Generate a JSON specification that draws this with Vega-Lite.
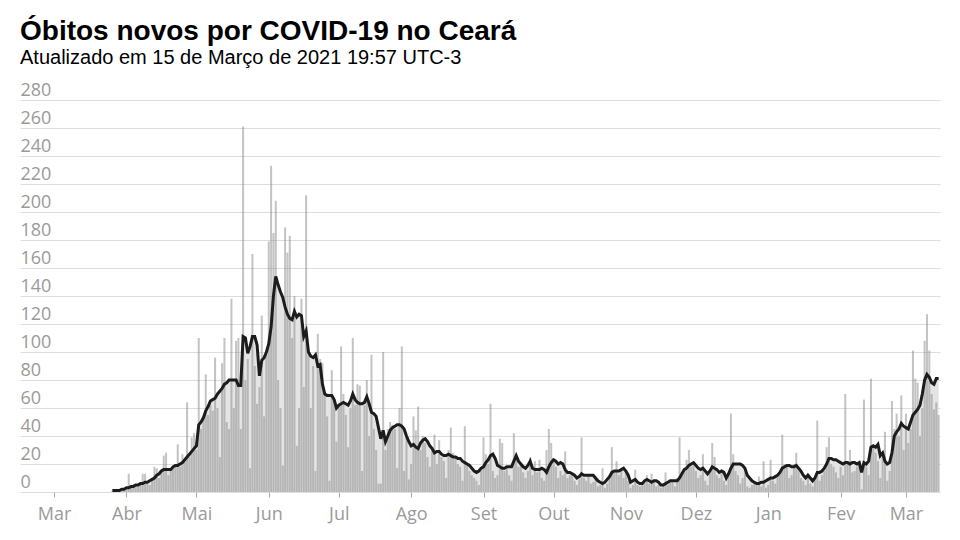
{
"$schema": "https://vega.github.io/schema/vega-lite/v6.json",
"width": 920, "height": 392,
"autosize": {"type": "none"},
"padding": {"left": 20, "top": 100, "right": 20, "bottom": 48},
"background": "white",
"title": {"text": "Óbitos novos por COVID-19 no Ceará", "subtitle": "Atualizado em 15 de Março de 2021 19:57 UTC-3", "anchor": "start", "frame": "bounds", "font": "Liberation Sans", "fontSize": 28, "fontWeight": "bold", "color": "#000", "subtitleFont": "Liberation Sans", "subtitleFontSize": 20, "subtitleColor": "#000", "subtitlePadding": 2, "offset": 13},
"config": {
  "view": {"stroke": null},
  "axisY": {"title": null, "domain": false, "ticks": false, "tickSize": 0, "labelAlign": "left", "labelBaseline": "alphabetic", "labelPadding": 0, "labelOffset": -5, "labelFont": "Open Sans", "labelFontSize": 18, "labelColor": "#9a9a9a", "gridColor": "#dddddd", "gridWidth": 1},
  "axisX": {"title": null, "domain": false, "grid": false, "ticks": true, "tickSize": 5, "tickColor": "#aaaaaa", "labelFont": "Open Sans", "labelFontSize": 18, "labelColor": "#9a9a9a", "labelPadding": 8, "labelFlush": false}
},
"data": {"values": [
{"d":"2020-03-26","o":1,"m":1},{"d":"2020-03-27","o":0,"m":1},{"d":"2020-03-28","o":1,"m":1},{"d":"2020-03-29","o":1,"m":1},{"d":"2020-03-30","o":2,"m":2},{"d":"2020-03-31","o":2,"m":2},
{"d":"2020-04-01","o":2,"m":3},{"d":"2020-04-02","o":13,"m":3},{"d":"2020-04-03","o":3,"m":4},{"d":"2020-04-04","o":4,"m":4},{"d":"2020-04-05","o":5,"m":5},{"d":"2020-04-06","o":4,"m":5},{"d":"2020-04-07","o":6,"m":6},{"d":"2020-04-08","o":13,"m":6},{"d":"2020-04-09","o":13,"m":7},{"d":"2020-04-10","o":6,"m":7},{"d":"2020-04-11","o":5,"m":8},{"d":"2020-04-12","o":9,"m":9},{"d":"2020-04-13","o":18,"m":10},{"d":"2020-04-14","o":17,"m":12},{"d":"2020-04-15","o":10,"m":13},{"d":"2020-04-16","o":14,"m":15},{"d":"2020-04-17","o":26,"m":16},{"d":"2020-04-18","o":28,"m":16},{"d":"2020-04-19","o":12,"m":16},{"d":"2020-04-20","o":15,"m":16},{"d":"2020-04-21","o":17,"m":18},{"d":"2020-04-22","o":20,"m":19},{"d":"2020-04-23","o":34,"m":19},{"d":"2020-04-24","o":18,"m":20},{"d":"2020-04-25","o":27,"m":21},{"d":"2020-04-26","o":22,"m":23},{"d":"2020-04-27","o":64,"m":25},{"d":"2020-04-28","o":25,"m":27},{"d":"2020-04-29","o":39,"m":29},{"d":"2020-04-30","o":42,"m":31},
{"d":"2020-05-01","o":30,"m":33},{"d":"2020-05-02","o":110,"m":48},{"d":"2020-05-03","o":45,"m":50},{"d":"2020-05-04","o":52,"m":53},{"d":"2020-05-05","o":84,"m":58},{"d":"2020-05-06","o":55,"m":61},{"d":"2020-05-07","o":62,"m":65},{"d":"2020-05-08","o":58,"m":66},{"d":"2020-05-09","o":96,"m":67},{"d":"2020-05-10","o":60,"m":70},{"d":"2020-05-11","o":25,"m":72},{"d":"2020-05-12","o":92,"m":74},{"d":"2020-05-13","o":110,"m":77},{"d":"2020-05-14","o":50,"m":78},{"d":"2020-05-15","o":45,"m":80},{"d":"2020-05-16","o":138,"m":80},{"d":"2020-05-17","o":60,"m":80},{"d":"2020-05-18","o":108,"m":80},{"d":"2020-05-19","o":110,"m":76},{"d":"2020-05-20","o":45,"m":76},{"d":"2020-05-21","o":261,"m":111},{"d":"2020-05-22","o":80,"m":110},{"d":"2020-05-23","o":95,"m":99},{"d":"2020-05-24","o":17,"m":104},{"d":"2020-05-25","o":170,"m":111},{"d":"2020-05-26","o":90,"m":111},{"d":"2020-05-27","o":63,"m":105},{"d":"2020-05-28","o":75,"m":83},{"d":"2020-05-29","o":126,"m":94},{"d":"2020-05-30","o":54,"m":96},{"d":"2020-05-31","o":98,"m":100},
{"d":"2020-06-01","o":179,"m":106},{"d":"2020-06-02","o":233,"m":118},{"d":"2020-06-03","o":185,"m":140},{"d":"2020-06-04","o":208,"m":154},{"d":"2020-06-05","o":80,"m":148},{"d":"2020-06-06","o":60,"m":143},{"d":"2020-06-07","o":19,"m":139},{"d":"2020-06-08","o":189,"m":132},{"d":"2020-06-09","o":171,"m":127},{"d":"2020-06-10","o":183,"m":124},{"d":"2020-06-11","o":110,"m":123},{"d":"2020-06-12","o":140,"m":129},{"d":"2020-06-13","o":33,"m":125},{"d":"2020-06-14","o":60,"m":127},{"d":"2020-06-15","o":138,"m":126},{"d":"2020-06-16","o":75,"m":111},{"d":"2020-06-17","o":212,"m":115},{"d":"2020-06-18","o":100,"m":100},{"d":"2020-06-19","o":60,"m":97},{"d":"2020-06-20","o":90,"m":96},{"d":"2020-06-21","o":15,"m":98},{"d":"2020-06-22","o":113,"m":90},{"d":"2020-06-23","o":95,"m":91},{"d":"2020-06-24","o":92,"m":77},{"d":"2020-06-25","o":70,"m":70},{"d":"2020-06-26","o":54,"m":69},{"d":"2020-06-27","o":8,"m":69},{"d":"2020-06-28","o":87,"m":69},{"d":"2020-06-29","o":65,"m":66},{"d":"2020-06-30","o":36,"m":60},
{"d":"2020-07-01","o":62,"m":62},{"d":"2020-07-02","o":104,"m":63},{"d":"2020-07-03","o":70,"m":64},{"d":"2020-07-04","o":55,"m":63},{"d":"2020-07-05","o":32,"m":62},{"d":"2020-07-06","o":60,"m":65},{"d":"2020-07-07","o":110,"m":70},{"d":"2020-07-08","o":62,"m":66},{"d":"2020-07-09","o":77,"m":64},{"d":"2020-07-10","o":76,"m":63},{"d":"2020-07-11","o":15,"m":63},{"d":"2020-07-12","o":62,"m":64},{"d":"2020-07-13","o":80,"m":68},{"d":"2020-07-14","o":40,"m":63},{"d":"2020-07-15","o":98,"m":57},{"d":"2020-07-16","o":45,"m":56},{"d":"2020-07-17","o":30,"m":54},{"d":"2020-07-18","o":6,"m":46},{"d":"2020-07-19","o":6,"m":38},{"d":"2020-07-20","o":100,"m":44},{"d":"2020-07-21","o":30,"m":36},{"d":"2020-07-22","o":45,"m":40},{"d":"2020-07-23","o":50,"m":44},{"d":"2020-07-24","o":48,"m":46},{"d":"2020-07-25","o":45,"m":47},{"d":"2020-07-26","o":17,"m":48},{"d":"2020-07-27","o":60,"m":48},{"d":"2020-07-28","o":104,"m":47},{"d":"2020-07-29","o":15,"m":45},{"d":"2020-07-30","o":40,"m":40},{"d":"2020-07-31","o":9,"m":36},
{"d":"2020-08-01","o":20,"m":33},{"d":"2020-08-02","o":54,"m":34},{"d":"2020-08-03","o":44,"m":32},{"d":"2020-08-04","o":61,"m":31},{"d":"2020-08-05","o":30,"m":35},{"d":"2020-08-06","o":40,"m":37},{"d":"2020-08-07","o":35,"m":38},{"d":"2020-08-08","o":25,"m":36},{"d":"2020-08-09","o":18,"m":33},{"d":"2020-08-10","o":30,"m":31},{"d":"2020-08-11","o":41,"m":28},{"d":"2020-08-12","o":20,"m":29},{"d":"2020-08-13","o":37,"m":29},{"d":"2020-08-14","o":25,"m":27},{"d":"2020-08-15","o":22,"m":26},{"d":"2020-08-16","o":10,"m":26},{"d":"2020-08-17","o":30,"m":27},{"d":"2020-08-18","o":46,"m":26},{"d":"2020-08-19","o":28,"m":25},{"d":"2020-08-20","o":25,"m":25},{"d":"2020-08-21","o":20,"m":24},{"d":"2020-08-22","o":18,"m":24},{"d":"2020-08-23","o":8,"m":22},{"d":"2020-08-24","o":47,"m":21},{"d":"2020-08-25","o":20,"m":20},{"d":"2020-08-26","o":15,"m":19},{"d":"2020-08-27","o":12,"m":17},{"d":"2020-08-28","o":10,"m":15},{"d":"2020-08-29","o":8,"m":14},{"d":"2020-08-30","o":5,"m":15},{"d":"2020-08-31","o":15,"m":17},
{"d":"2020-09-01","o":39,"m":18},{"d":"2020-09-02","o":27,"m":21},{"d":"2020-09-03","o":20,"m":23},{"d":"2020-09-04","o":63,"m":26},{"d":"2020-09-05","o":15,"m":27},{"d":"2020-09-06","o":10,"m":24},{"d":"2020-09-07","o":12,"m":19},{"d":"2020-09-08","o":38,"m":18},{"d":"2020-09-09","o":35,"m":17},{"d":"2020-09-10","o":15,"m":17},{"d":"2020-09-11","o":18,"m":18},{"d":"2020-09-12","o":12,"m":18},{"d":"2020-09-13","o":8,"m":18},{"d":"2020-09-14","o":42,"m":22},{"d":"2020-09-15","o":25,"m":26},{"d":"2020-09-16","o":18,"m":22},{"d":"2020-09-17","o":20,"m":20},{"d":"2020-09-18","o":14,"m":18},{"d":"2020-09-19","o":10,"m":17},{"d":"2020-09-20","o":15,"m":19},{"d":"2020-09-21","o":25,"m":22},{"d":"2020-09-22","o":12,"m":17},{"d":"2020-09-23","o":22,"m":16},{"d":"2020-09-24","o":14,"m":16},{"d":"2020-09-25","o":23,"m":16},{"d":"2020-09-26","o":10,"m":17},{"d":"2020-09-27","o":8,"m":16},{"d":"2020-09-28","o":30,"m":14},{"d":"2020-09-29","o":45,"m":18},{"d":"2020-09-30","o":35,"m":21},
{"d":"2020-10-01","o":22,"m":23},{"d":"2020-10-02","o":18,"m":22},{"d":"2020-10-03","o":10,"m":20},{"d":"2020-10-04","o":15,"m":21},{"d":"2020-10-05","o":12,"m":20},{"d":"2020-10-06","o":29,"m":16},{"d":"2020-10-07","o":10,"m":14},{"d":"2020-10-08","o":12,"m":14},{"d":"2020-10-09","o":14,"m":13},{"d":"2020-10-10","o":8,"m":12},{"d":"2020-10-11","o":5,"m":10},{"d":"2020-10-12","o":9,"m":11},{"d":"2020-10-13","o":39,"m":13},{"d":"2020-10-14","o":10,"m":12},{"d":"2020-10-15","o":8,"m":12},{"d":"2020-10-16","o":12,"m":12},{"d":"2020-10-17","o":6,"m":12},{"d":"2020-10-18","o":7,"m":12},{"d":"2020-10-19","o":10,"m":10},{"d":"2020-10-20","o":4,"m":8},{"d":"2020-10-21","o":5,"m":7},{"d":"2020-10-22","o":17,"m":6},{"d":"2020-10-23","o":3,"m":7},{"d":"2020-10-24","o":6,"m":9},{"d":"2020-10-25","o":10,"m":11},{"d":"2020-10-26","o":32,"m":14},{"d":"2020-10-27","o":14,"m":15},{"d":"2020-10-28","o":22,"m":15},{"d":"2020-10-29","o":12,"m":15},{"d":"2020-10-30","o":15,"m":16},{"d":"2020-10-31","o":10,"m":17},
{"d":"2020-11-01","o":14,"m":15},{"d":"2020-11-02","o":8,"m":12},{"d":"2020-11-03","o":3,"m":7},{"d":"2020-11-04","o":5,"m":8},{"d":"2020-11-05","o":16,"m":9},{"d":"2020-11-06","o":5,"m":7},{"d":"2020-11-07","o":4,"m":6},{"d":"2020-11-08","o":6,"m":6},{"d":"2020-11-09","o":8,"m":8},{"d":"2020-11-10","o":12,"m":9},{"d":"2020-11-11","o":6,"m":8},{"d":"2020-11-12","o":13,"m":7},{"d":"2020-11-13","o":8,"m":8},{"d":"2020-11-14","o":4,"m":8},{"d":"2020-11-15","o":5,"m":7},{"d":"2020-11-16","o":3,"m":5},{"d":"2020-11-17","o":6,"m":5},{"d":"2020-11-18","o":14,"m":6},{"d":"2020-11-19","o":5,"m":7},{"d":"2020-11-20","o":8,"m":8},{"d":"2020-11-21","o":7,"m":8},{"d":"2020-11-22","o":4,"m":8},{"d":"2020-11-23","o":10,"m":8},{"d":"2020-11-24","o":39,"m":10},{"d":"2020-11-25","o":12,"m":13},{"d":"2020-11-26","o":15,"m":16},{"d":"2020-11-27","o":23,"m":17},{"d":"2020-11-28","o":30,"m":19},{"d":"2020-11-29","o":18,"m":20},{"d":"2020-11-30","o":20,"m":21},
{"d":"2020-12-01","o":15,"m":19},{"d":"2020-12-02","o":10,"m":17},{"d":"2020-12-03","o":12,"m":16},{"d":"2020-12-04","o":27,"m":17},{"d":"2020-12-05","o":8,"m":15},{"d":"2020-12-06","o":5,"m":13},{"d":"2020-12-07","o":14,"m":15},{"d":"2020-12-08","o":35,"m":18},{"d":"2020-12-09","o":25,"m":17},{"d":"2020-12-10","o":12,"m":16},{"d":"2020-12-11","o":10,"m":14},{"d":"2020-12-12","o":15,"m":15},{"d":"2020-12-13","o":8,"m":14},{"d":"2020-12-14","o":5,"m":10},{"d":"2020-12-15","o":14,"m":13},{"d":"2020-12-16","o":56,"m":17},{"d":"2020-12-17","o":27,"m":20},{"d":"2020-12-18","o":15,"m":20},{"d":"2020-12-19","o":12,"m":20},{"d":"2020-12-20","o":6,"m":20},{"d":"2020-12-21","o":10,"m":19},{"d":"2020-12-22","o":14,"m":17},{"d":"2020-12-23","o":4,"m":12},{"d":"2020-12-24","o":3,"m":10},{"d":"2020-12-25","o":5,"m":8},{"d":"2020-12-26","o":6,"m":7},{"d":"2020-12-27","o":5,"m":6},{"d":"2020-12-28","o":11,"m":6},{"d":"2020-12-29","o":4,"m":7},{"d":"2020-12-30","o":22,"m":7},{"d":"2020-12-31","o":3,"m":8},
{"d":"2021-01-01","o":5,"m":9},{"d":"2021-01-02","o":23,"m":10},{"d":"2021-01-03","o":8,"m":10},{"d":"2021-01-04","o":6,"m":11},{"d":"2021-01-05","o":12,"m":12},{"d":"2021-01-06","o":15,"m":14},{"d":"2021-01-07","o":41,"m":17},{"d":"2021-01-08","o":20,"m":18},{"d":"2021-01-09","o":18,"m":19},{"d":"2021-01-10","o":10,"m":19},{"d":"2021-01-11","o":12,"m":18},{"d":"2021-01-12","o":20,"m":18},{"d":"2021-01-13","o":28,"m":19},{"d":"2021-01-14","o":15,"m":17},{"d":"2021-01-15","o":10,"m":15},{"d":"2021-01-16","o":8,"m":12},{"d":"2021-01-17","o":5,"m":10},{"d":"2021-01-18","o":12,"m":12},{"d":"2021-01-19","o":6,"m":10},{"d":"2021-01-20","o":4,"m":8},{"d":"2021-01-21","o":10,"m":10},{"d":"2021-01-22","o":51,"m":14},{"d":"2021-01-23","o":8,"m":14},{"d":"2021-01-24","o":12,"m":15},{"d":"2021-01-25","o":15,"m":17},{"d":"2021-01-26","o":32,"m":20},{"d":"2021-01-27","o":39,"m":24},{"d":"2021-01-28","o":20,"m":24},{"d":"2021-01-29","o":18,"m":23},{"d":"2021-01-30","o":14,"m":23},{"d":"2021-01-31","o":10,"m":22},
{"d":"2021-02-01","o":18,"m":21},{"d":"2021-02-02","o":12,"m":20},{"d":"2021-02-03","o":70,"m":21},{"d":"2021-02-04","o":20,"m":21},{"d":"2021-02-05","o":30,"m":20},{"d":"2021-02-06","o":14,"m":21},{"d":"2021-02-07","o":15,"m":21},{"d":"2021-02-08","o":18,"m":20},{"d":"2021-02-09","o":22,"m":21},{"d":"2021-02-10","o":2,"m":14},{"d":"2021-02-11","o":66,"m":21},{"d":"2021-02-12","o":18,"m":20},{"d":"2021-02-13","o":12,"m":22},{"d":"2021-02-14","o":81,"m":32},{"d":"2021-02-15","o":33,"m":33},{"d":"2021-02-16","o":28,"m":32},{"d":"2021-02-17","o":22,"m":34},{"d":"2021-02-18","o":10,"m":26},{"d":"2021-02-19","o":25,"m":28},{"d":"2021-02-20","o":43,"m":22},{"d":"2021-02-21","o":8,"m":20},{"d":"2021-02-22","o":15,"m":21},{"d":"2021-02-23","o":65,"m":28},{"d":"2021-02-24","o":45,"m":40},{"d":"2021-02-25","o":56,"m":43},{"d":"2021-02-26","o":40,"m":45},{"d":"2021-02-27","o":69,"m":49},{"d":"2021-02-28","o":30,"m":47},
{"d":"2021-03-01","o":56,"m":46},{"d":"2021-03-02","o":35,"m":45},{"d":"2021-03-03","o":45,"m":50},{"d":"2021-03-04","o":101,"m":55},{"d":"2021-03-05","o":81,"m":57},{"d":"2021-03-06","o":78,"m":59},{"d":"2021-03-07","o":40,"m":62},{"d":"2021-03-08","o":60,"m":70},{"d":"2021-03-09","o":108,"m":80},{"d":"2021-03-10","o":127,"m":84},{"d":"2021-03-11","o":101,"m":82},{"d":"2021-03-12","o":70,"m":78},{"d":"2021-03-13","o":59,"m":77},{"d":"2021-03-14","o":64,"m":81},{"d":"2021-03-15","o":55,"m":81}
]},
"encoding": {
  "x": {"field": "d", "type": "temporal",
    "scale": {"type": "utc", "padding": 0, "domain": [{"year": 2020, "month": 2, "date": 15, "hours": 10, "utc": true}, {"year": 2021, "month": 3, "date": 15, "hours": 14, "utc": true}]},
    "axis": {"tickCount": {"interval": "month", "step": 1}, "labelExpr": "['Jan','Fev','Mar','Abr','Mai','Jun','Jul','Ago','Set','Out','Nov','Dez'][utcmonth(datum.value)]", "labelAlign": "center"}}
},
"layer": [
  {"mark": {"type": "area", "color": "#e4e4e4"},
   "encoding": {"y": {"field": "m", "type": "quantitative", "scale": {"domain": [0, 280], "nice": false}, "axis": {"title": null, "values": [0,20,40,60,80,100,120,140,160,180,200,220,240,260,280]}}}},
  {"mark": {"type": "bar", "width": 2, "color": "#888888", "opacity": 0.5},
   "encoding": {"y": {"field": "o", "type": "quantitative", "axis": {"title": null, "values": [0,20,40,60,80,100,120,140,160,180,200,220,240,260,280]}}}},
  {"mark": {"type": "line", "color": "#1c1c1c", "strokeWidth": 3},
   "encoding": {"y": {"field": "m", "type": "quantitative", "axis": {"title": null, "values": [0,20,40,60,80,100,120,140,160,180,200,220,240,260,280]}}}}
]
}
